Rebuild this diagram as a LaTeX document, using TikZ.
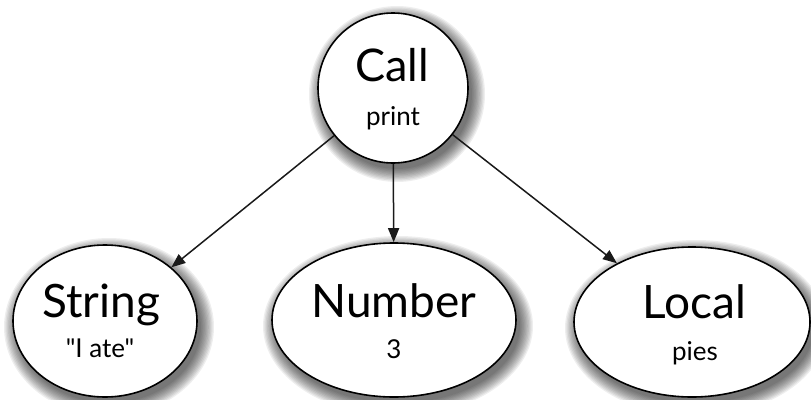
\documentclass[tikz,border=0pt]{standalone}
\usepackage{fontspec}
% plain family: no TeX ligature mapping, so " stays a straight quote
\newfontfamily\lblfont{Lato}
\usetikzlibrary{shapes.geometric,arrows.meta}

% soft drop shadow under an oval: centre x, centre y, x radius, y radius
\newcommand{\softshadow}[4]{%
  \foreach \k in {0,...,10}{%
    \fill[black, fill opacity=0.065]
      (#1+4,#2+6) ellipse [x radius={#3+\k*1.3}, y radius={#4+\k*1.3}];}}

\begin{document}
\begin{tikzpicture}[x=1pt,y=-1pt,
  treenode/.style={draw=black, line width=1.6pt, fill=white, inner sep=0pt},
  roundnode/.style={treenode, circle, minimum size=150pt},
  ovalnode/.style={treenode, ellipse},
  bigtext/.style={anchor=base, inner sep=0pt, font=\lblfont\fontsize{46}{46}\selectfont},
  smalltext/.style={anchor=base, inner sep=0pt, font=\lblfont\fontsize{26}{26}\selectfont},
  link/.style={draw=black!90, line width=1.5pt, -{Triangle[length=14pt,width=11pt]}}]

\useasboundingbox (0,0) rectangle (811,399);

% shadows behind the nodes
\softshadow{393}{88}{75}{75}
\softshadow{105}{321}{92}{76}
\softshadow{394}{320}{122}{77}
\softshadow{692}{322}{118}{75}

% tree nodes
\node[roundnode] (call) at (393,88) {};
\node[ovalnode, minimum width=184pt, minimum height=152pt] (string) at (105,321) {};
\node[ovalnode, minimum width=244pt, minimum height=154pt] (number) at (394,320) {};
\node[ovalnode, minimum width=236pt, minimum height=150pt] (local) at (692,322) {};

% labels
\node[bigtext, font=\lblfont\fontsize{45}{45}\selectfont] (calltitle) at (392,81) {Call};
\node[smalltext] (callarg) at (393,125) {print};
\node[bigtext] (stringtitle) at (101,317) {String};
\node[smalltext] (stringarg) at (100,357) {"I ate"};
\node[bigtext] (numbertitle) at (394,317) {Number};
\node[smalltext] (numberarg) at (394,358) {3};
\node[bigtext] (localtitle) at (694,318) {Local};
\node[smalltext] (localarg) at (695,360) {pies};

% connectors
\draw[link] (call) -- (string);
\draw[link] (call) -- (number);
\draw[link] (call) -- (local);
\end{tikzpicture}
\end{document}
